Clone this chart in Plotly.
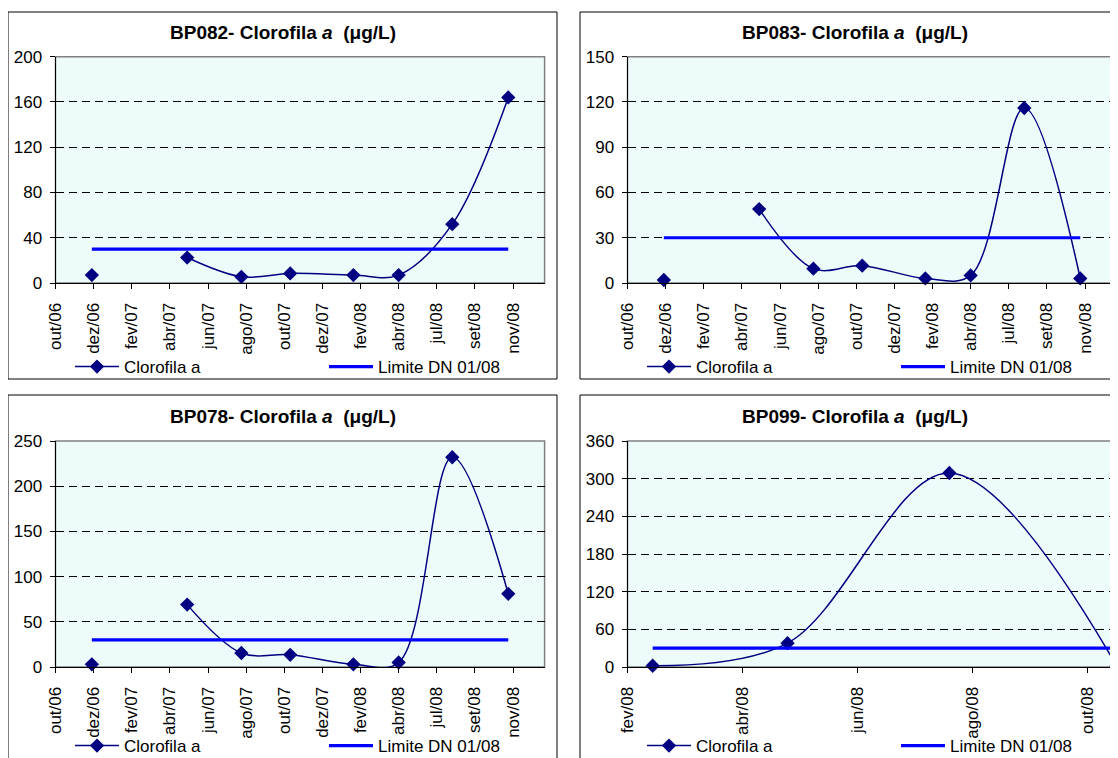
import plotly.graph_objects as go

# The page body adds an 8px margin, so the figure is drawn 8px in from the corner.
OFF = 8
W, H = 1118 - OFF, 758 - OFF
FONT = "Liberation Sans, Arial, sans-serif"

# ---------------- data ----------------
sample_dates = ["2006-12-01", "2007-05-10", "2007-08-09", "2007-10-30",
                "2008-02-13", "2008-04-29", "2008-07-28", "2008-10-30"]
bp082 = [7, 22.5, 5.5, 8.5, 7, 7, 52, 164]
bp083 = [2, 49, 9.5, 11.5, 3, 5, 116, 3]
bp078 = [3, 69, 15.5, 13.5, 3, 5, 232, 81]

bp099_dates = ["2008-02-15", "2008-04-30", "2008-07-29", "2008-10-30"]
bp099 = [2, 38, 309, 2]

limit_value = 30

tick_dates_long = ["2006-10-01", "2006-12-04", "2007-02-06", "2007-04-11", "2007-06-14",
                   "2007-08-17", "2007-10-20", "2007-12-23", "2008-02-25", "2008-04-29",
                   "2008-07-02", "2008-09-04", "2008-11-07"]
tick_labels_long = ["out/06", "dez/06", "fev/07", "abr/07", "jun/07", "ago/07", "out/07",
                    "dez/07", "fev/08", "abr/08", "jul/08", "set/08", "nov/08"]
range_long = ["2006-10-01", "2008-12-30"]

tick_dates_short = ["2008-02-01", "2008-04-05", "2008-06-08", "2008-08-11", "2008-10-14"]
tick_labels_short = ["fev/08", "abr/08", "jun/08", "ago/08", "out/08"]
range_short = ["2008-02-01", "2008-10-30"]

titles = ["BP082", "BP083", "BP078", "BP099"]
y_max = [200, 150, 250, 360]
y_step = [40, 30, 50, 60]
gap_after_first = [True, True, True, False]

# ---------------- layout geometry (px, in screen coordinates) ----------------
col_x = [(55.5, 544.6), (627.5, 1116.6)]
row_y = [(56.7, 283.0), (441.0, 667.0)]
box_x = [(8, 557), (580, 1129)]
box_y = [(12, 379), (395, 800)]
title_y = [32, 416]
legend_y = [367, 746]


def px(x):
    return (x - OFF) / W


def py(y):
    return 1 - (y - OFF) / H


panels = [
    dict(dates=sample_dates, vals=bp082, ticks=tick_dates_long, labels=tick_labels_long, rng=range_long, col=0, row=0),
    dict(dates=sample_dates, vals=bp083, ticks=tick_dates_long, labels=tick_labels_long, rng=range_long, col=1, row=0),
    dict(dates=sample_dates, vals=bp078, ticks=tick_dates_long, labels=tick_labels_long, rng=range_long, col=0, row=1),
    dict(dates=bp099_dates, vals=bp099, ticks=tick_dates_short, labels=tick_labels_short, rng=range_short, col=1, row=1),
]

fig = go.Figure()
shapes = []
annotations = []
layout = {}

for i, p in enumerate(panels):
    n = "" if i == 0 else str(i + 1)
    xa, ya = "x" + n, "y" + n
    leg = "legend" + n
    x0, x1 = col_x[p["col"]]
    yt, yb = row_y[p["row"]]

    dates, vals = p["dates"], p["vals"]
    if gap_after_first[i]:
        xs = [dates[0], None] + dates[1:]
        ys = [vals[0], None] + vals[1:]
    else:
        xs, ys = dates, vals

    fig.add_trace(go.Scatter(
        x=xs, y=ys, xaxis=xa, yaxis=ya, name="Clorofila a", legend=leg,
        mode="lines+markers", connectgaps=False, cliponaxis=False,
        line=dict(color="#000080", width=1.5, shape="spline", smoothing=1.0),
        marker=dict(symbol="diamond", size=11, color="#000080"),
        hoverinfo="x+y"))
    fig.add_trace(go.Scatter(
        x=[dates[0], dates[-1]], y=[limit_value, limit_value], xaxis=xa, yaxis=ya,
        name="Limite DN 01/08", legend=leg, mode="lines",
        line=dict(color="#0000FF", width=3.2), hoverinfo="y"))

    layout["xaxis" + n] = dict(
        domain=[px(x0), px(x1)], anchor=ya, type="date", range=p["rng"],
        tickmode="array", tickvals=p["ticks"], ticktext=p["labels"], tickangle=-90,
        ticks="outside", ticklen=5, tickcolor="black", tickwidth=1, ticklabelstandoff=7,
        showline=True, linecolor="black", linewidth=1, showgrid=False, zeroline=False,
        tickfont=dict(family=FONT, size=17, color="black"), fixedrange=True)
    ym, st = y_max[i], y_step[i]
    layout["yaxis" + n] = dict(
        domain=[py(yb), py(yt)], anchor=xa, range=[0, ym],
        tickmode="linear", tick0=0, dtick=st,
        ticks="outside", ticklen=5, tickcolor="black", tickwidth=1, ticklabelstandoff=4,
        showline=True, linecolor="black", linewidth=1, showgrid=False, zeroline=False,
        minor=dict(tickmode="array", tickvals=list(range(st, ym, st)), showgrid=True,
                   gridcolor="black", gridwidth=1, griddash="8px,5px", ticks=""),
        tickfont=dict(family=FONT, size=17, color="black"), fixedrange=True)

    # plot-area border (grey top/right)
    shapes.append(dict(type="rect", xref=xa + " domain", yref=ya + " domain",
                       x0=0, x1=1, y0=0, y1=1, line=dict(color="#808080", width=1.5),
                       layer="below"))
    # chart box
    bx0, bx1 = box_x[p["col"]]
    by0, by1 = box_y[p["row"]]
    shapes.append(dict(type="rect", xref="paper", yref="paper",
                       x0=px(bx0), x1=px(bx1), y0=py(by1), y1=py(by0),
                       line=dict(color="black", width=1)))
    # title
    annotations.append(dict(
        text="<b>" + titles[i] + "- Clorofila <i>a</i>  (μg/L)</b>",
        xref="paper", yref="paper", x=px((bx0 + bx0 + 549) / 2),
        y=py(title_y[p["row"]]), xanchor="center", yanchor="middle", showarrow=False,
        font=dict(family=FONT, size=19, color="black")))

    layout[leg] = dict(
        x=px(box_x[p["col"]][0] + 62), y=py(legend_y[p["row"]]),
        xanchor="left", yanchor="middle", orientation="h",
        entrywidth=195, entrywidthmode="pixels", itemwidth=44,
        font=dict(family=FONT, size=17, color="black"),
        bgcolor="rgba(0,0,0,0)", borderwidth=0, itemclick=False, itemdoubleclick=False)

fig.update_layout(
    width=W, height=H, margin=dict(l=0, r=0, t=0, b=0, autoexpand=False),
    paper_bgcolor="white", plot_bgcolor="#EDFBFB",
    font=dict(family=FONT, size=16, color="black"),
    shapes=shapes, annotations=annotations, hovermode="closest",
    **layout)

fig.write_html("out.html")
